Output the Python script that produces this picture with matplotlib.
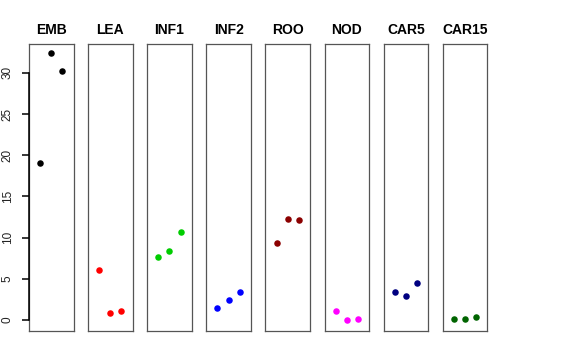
import matplotlib
matplotlib.use("Agg")
import matplotlib.pyplot as plt

plt.rcParams['font.family'] = ['Liberation Sans', 'DejaVu Sans']

# tissues and their three values each
tissues = ["EMB", "LEA", "INF1", "INF2", "ROO", "NOD", "CAR5", "CAR15"]
emb = [19.07, 32.4, 30.2]
lea = [6.07, 0.85, 1.09]
inf1 = [7.65, 8.38, 10.65]
inf2 = [1.46, 2.43, 3.36]
roo = [9.39, 12.27, 12.15]
nod = [1.09, 0.0, 0.12]
car5 = [3.36, 2.88, 4.53]
car15 = [0.08, 0.08, 0.33]
values = [emb, lea, inf1, inf2, roo, nod, car5, car15]
colors = ["black", "red", "#00CD00", "blue", "#8B0000", "magenta", "#000080", "#006400"]
reps = [1, 2, 3]
yticks = [0, 5, 10, 15, 20, 25, 30]

fig = plt.figure(figsize=(5.76, 3.6), dpi=100)

W, H = 576.0, 360.0
for i, name in enumerate(tissues):
    left = 29 + i * 59.1
    ax = fig.add_axes([left / W, 1 - 331 / H, 44.5 / W, (331 - 44) / H])
    ax.scatter(reps, values[i], color=colors[i], s=22, zorder=3, linewidths=0)
    ax.set_xlim(0, 4)
    ax.set_ylim(-1.34, 33.5)
    ax.set_xticks([])
    ax.set_title(name, fontsize=10, fontweight="bold", pad=7)
    for sp in ax.spines.values():
        sp.set_color("#555555")
        sp.set_linewidth(0.9)
    if i == 0:
        ax.set_yticks(yticks)
        ax.tick_params(axis="y", length=0, labelsize=8.5, labelcolor="#222222",
                       labelrotation=90, pad=11)
        for lab in ax.get_yticklabels():
            lab.set_verticalalignment("center")
        # R-style axis: line over the tick range plus outward tick marks
        ax.plot([0, 0], [yticks[0], yticks[-1]], color="black", lw=1.1, clip_on=False, zorder=4)
        ax.hlines(yticks, -7 / 44.5, 0, transform=ax.get_yaxis_transform(),
                  color="black", lw=1.1, clip_on=False)
    else:
        ax.set_yticks([])

plt.savefig("out.png", dpi=100)
